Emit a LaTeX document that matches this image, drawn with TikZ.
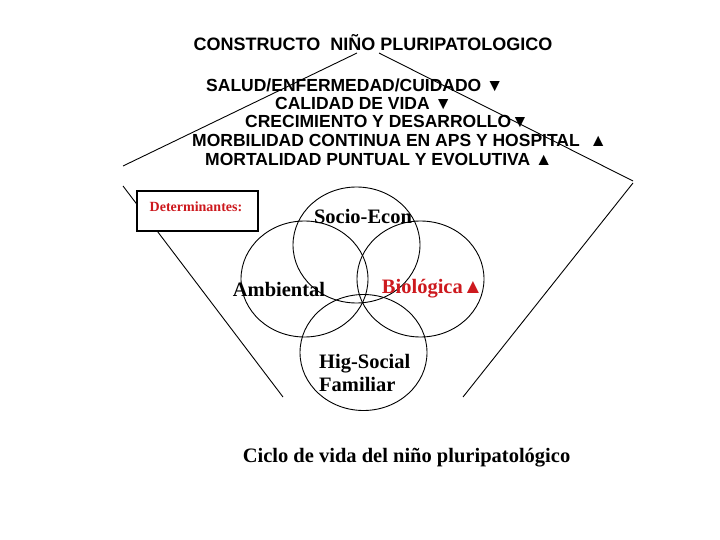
\documentclass[tikz,border=0pt]{standalone}
\usepackage{fontspec}
\setmainfont{Liberation Serif}
\setsansfont{Liberation Sans}
\usetikzlibrary{shapes.geometric,positioning}
\definecolor{deepred}{RGB}{205,25,30}
\tikzset{
  head_txt/.style={font=\sffamily\bfseries\fontsize{17.5}{20}\selectfont,inner sep=0pt,anchor=west},
  title_txt/.style={font=\sffamily\bfseries\fontsize{18}{21}\selectfont,inner sep=0pt},
  ring_lbl/.style={font=\bfseries\fontsize{20.5}{23}\selectfont,inner sep=0pt},
  det_box/.style={draw=black,fill=white,line width=1.1pt,minimum width=121pt,minimum height=40pt},
  ring/.style={draw=black,ellipse,line width=0.9pt,minimum width=127pt,minimum height=116pt},
  edge_ln/.style={draw=black,line width=0.9pt},
}
\begin{document}
\begin{tikzpicture}[x=1pt,y=-1pt]
  \useasboundingbox (0,0) rectangle (720,540);

  % title and roof lines
  \node[title_txt] (title) at (373,43) {CONSTRUCTO\ \ NIÑO PLURIPATOLOGICO};
  \coordinate (apexL) at (357,53);
  \coordinate (apexR) at (379,53);
  \coordinate (eaveL) at (123,166);
  \coordinate (eaveR) at (633,181);
  \draw[edge_ln] (apexL) -- (eaveL);
  \draw[edge_ln] (apexR) -- (eaveR);

  \node[head_txt] (salud) at (206,85) {SALUD/ENFERMEDAD/CUIDADO ▼};
  \node[head_txt] (calidad) at (275,104) {CALIDAD DE VIDA ▼};
  \node[head_txt] (crec) at (245,122) {CRECIMIENTO Y DESARROLLO▼};
  \node[head_txt] (morb) at (192,140) {MORBILIDAD CONTINUA EN APS Y HOSPITAL\ \ ▲};
  \node[head_txt] (mort) at (205,159) {MORTALIDAD PUNTUAL Y EVOLUTIVA ▲};

  % funnel sides
  \coordinate (sideLt) at (123,186);
  \coordinate (sideLb) at (283,397);
  \coordinate (sideRt) at (633,183);
  \coordinate (sideRb) at (463,397);
  \draw[edge_ln] (sideLt) -- (sideLb);
  \draw[edge_ln] (sideRt) -- (sideRb);

  \node[det_box] (det) at (197.5,211) {};
  \node[font=\bfseries\fontsize{14}{16}\selectfont,text=deepred,inner sep=0pt] (detlbl) at (196,207) {Determinantes:};

  % determinant rings
  \node[ring] (socio) at (356.5,245) {};
  \node[ring] (amb) at (304.5,279) {};
  \node[ring] (bio) at (420.5,279) {};
  \node[ring] (hig) at (363.5,352.5) {};

  \node[ring_lbl] (sociolbl) at (363,216) {Socio-Econ};
  \node[ring_lbl] (amblbl) at (279,289) {Ambiental};
  \node[ring_lbl,text=deepred] (biolbl) at (432.5,289) {Biológica▲};
  \node[ring_lbl,align=left,anchor=west] (higlbl) at (319,373) {Hig-Social\\Familiar};

  \node[ring_lbl] (ciclo) at (406.5,458) {Ciclo de vida del niño pluripatológico};
\end{tikzpicture}
\end{document}
